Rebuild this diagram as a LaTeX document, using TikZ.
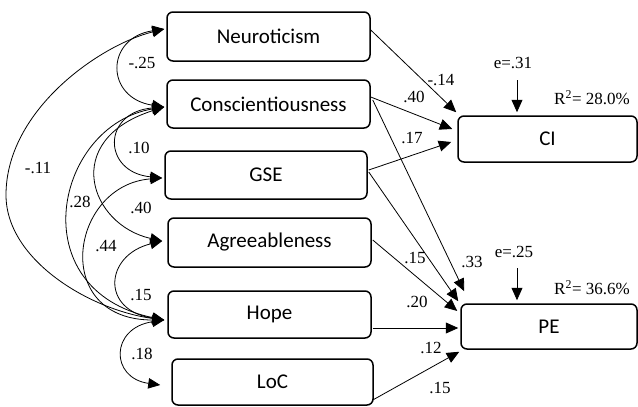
\documentclass[tikz,border=0pt]{standalone}
\usepackage{fontspec}
\setmainfont{Liberation Serif}
\newfontfamily\boxfont{Carlito}
\usetikzlibrary{arrows.meta,calc}
\begin{document}
\begin{tikzpicture}[x=1pt,y=-1pt,
  varnode/.style={draw, line width=1.5pt, rounded corners=6pt, inner sep=0pt,
    font=\boxfont\fontsize{21}{25}\selectfont},
  lbl/.style={font=\fontsize{17}{20}\selectfont, inner sep=0pt},
  arr/.style={-{Triangle[length=12.5pt,width=11pt]}, line width=0.8pt},
  darr/.style={{Triangle[length=12pt,width=10.5pt]}-{Triangle[length=12pt,width=10.5pt]}, line width=0.8pt}]
\useasboundingbox (0,0) rectangle (638,407);

% boxes
\node[varnode, minimum width=203pt, minimum height=49pt] (neuro) at (268.5,36.5) {Neuroticism};
\node[varnode, minimum width=203pt, minimum height=48pt] (consc) at (268.5,104) {Conscientiousness};
\node[varnode, minimum width=202pt, minimum height=48pt] (gse) at (266,175) {GSE};
\node[varnode, minimum width=203pt, minimum height=49pt] (agree) at (269.5,242.5) {Agreeableness};
\node[varnode, minimum width=203pt, minimum height=47pt] (hope) at (269.5,314.5) {Hope};
\node[varnode, minimum width=201pt, minimum height=46pt] (loc) at (272.5,382) {LoC};
\node[varnode, minimum width=179pt, minimum height=46pt] (ci) at (547.5,139) {CI};
\node[varnode, minimum width=176pt, minimum height=45pt] (pe) at (549,326.5) {PE};

% left end points
\coordinate (nL) at ($(neuro.west)+(-2,-7.5)$);
\coordinate (cL) at ($(consc.west)+(-2,3)$);
\coordinate (gL) at ($(gse.west)+(-2,3)$);
\coordinate (aL) at ($(agree.west)+(-5,-1.5)$);
\coordinate (hL) at ($(hope.west)+(-3,5.5)$);
\coordinate (lL) at ($(loc.west)+(-11,3)$);

% correlations
\draw[darr] (nL) .. controls (105,38) and (105,98) .. (cL);
\draw[darr] (nL) .. controls (100,45) and (6,110) .. (6,195) .. controls (6,260) and (90,310) .. (hL);
\draw[darr] (cL) .. controls (102,112) and (102,172) .. (gL);
\draw[darr] (cL) .. controls (55,125) and (20,290) .. (hL);
\draw[darr] (cL) .. controls (60,140) and (90,225) .. (aL);
\draw[darr] (gL) .. controls (70,185) and (50,320) .. (hL);
\draw[darr] (aL) .. controls (105,255) and (100,310) .. (hL);
\draw[darr] (hL) .. controls (110,328) and (110,378) .. (lL);

\node[lbl] (l25) at (142,63) {-.25};
\node[lbl] (l11) at (38,168) {-.11};
\node[lbl] (l10) at (139,148) {.10};
\node[lbl] (l28) at (80,202) {.28};
\node[lbl] (l40) at (141,208) {.40};
\node[lbl] (l44) at (106,246) {.44};
\node[lbl] (l15) at (141,295) {.15};
\node[lbl] (l18) at (142,354) {.18};

% paths to CI and PE
\draw[arr] ($(neuro.east)+(0,-6.5)$) -- ($(ci.north west)+(-1,-3)$);
\draw[arr] ($(consc.east)+(0,-7)$) -- ($(ci.west)+(-5,-10)$);
\draw[arr] ($(gse.east)+(1,-5)$) -- ($(ci.west)+(-6,3)$);
\draw[arr] ($(consc.east)+(2,-4)$) -- ($(pe.north west)+(4,-12)$);
\draw[arr] ($(gse.east)+(1,-3)$) -- ($(pe.north west)+(-2,-2)$);
\draw[arr] ($(agree.east)+(1,-2.5)$) -- ($(pe.west)+(-3,-15.5)$);
\draw[arr] ($(hope.east)+(1,13.5)$) -- ($(pe.west)+(-2,1.5)$);
\draw[arr] ($(loc.east)+(-1,18)$) -- ($(pe.south west)+(-1,2)$);

\node[lbl] (r14) at (441,80) {-.14};
\node[lbl] (r40) at (414,97) {.40};
\node[lbl] (r17) at (412,138) {.17};
\node[lbl] (r15) at (415,258) {.15};
\node[lbl] (r33) at (472,262) {.33};
\node[lbl] (r20) at (417,302) {.20};
\node[lbl] (r12) at (431,348) {.12};
\node[lbl] (r15b) at (440,388) {.15};

% residuals
\node[lbl] (e1) at (513,63) {e=.31};
\coordinate (e1a) at (517,80);
\draw[arr, shorten >=3pt] (e1a) -- (e1a |- ci.north);
\node[lbl] (r1) at (592,98) {R\textsuperscript{2}= 28.0\%};
\node[lbl] (e2) at (514,252) {e=.25};
\coordinate (e2a) at (517,268);
\draw[arr, shorten >=3pt] (e2a) -- (e2a |- pe.north);
\node[lbl] (r2) at (592,288) {R\textsuperscript{2}= 36.6\%};
\end{tikzpicture}
\end{document}
